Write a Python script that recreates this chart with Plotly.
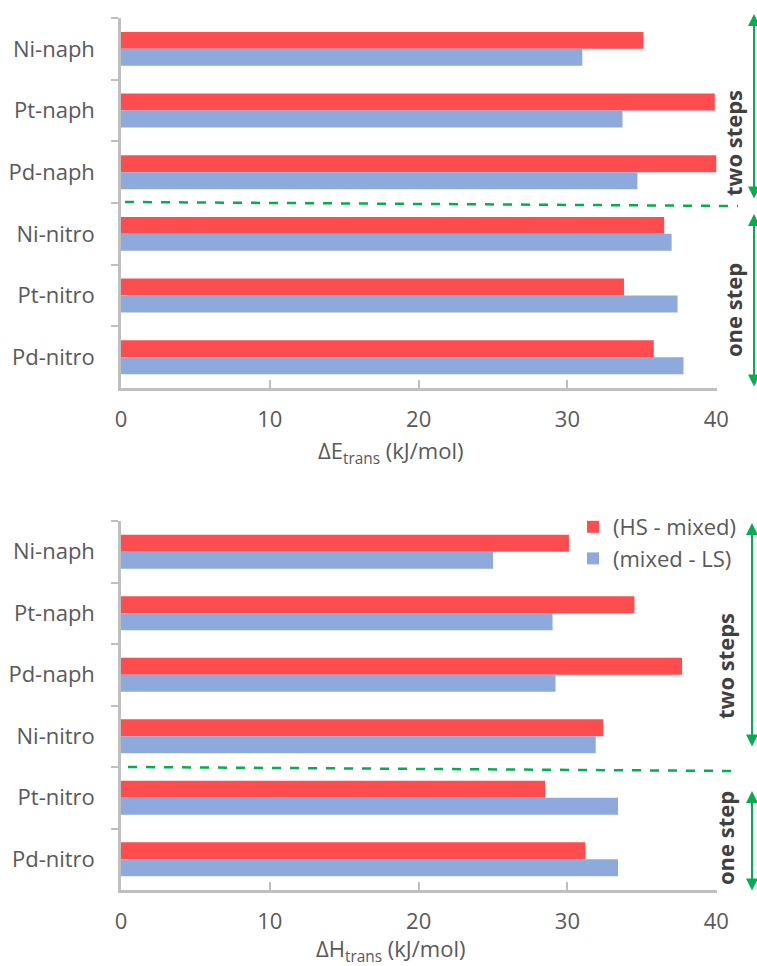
import plotly.graph_objects as go
from plotly.subplots import make_subplots

categories = ["Ni-naph", "Pt-naph", "Pd-naph", "Ni-nitro", "Pt-nitro", "Pd-nitro"]
E_hs_mixed = [35.1, 39.9, 40.0, 36.5, 33.8, 35.8]
E_mixed_ls = [31.0, 33.7, 34.7, 37.0, 37.4, 37.8]
H_hs_mixed = [30.1, 34.5, 37.7, 32.4, 28.5, 31.2]
H_mixed_ls = [25.0, 29.0, 29.2, 31.9, 33.4, 33.4]
series_names = ["(HS - mixed)", "(mixed - LS)"]
x_ticks = [0, 10, 20, 30, 40]
axis_titles = ["ΔE<sub>trans</sub> (kJ/mol)", "ΔH<sub>trans</sub> (kJ/mol)"]

RED = "#FF4D4F"
BLUE = "#8EA9DB"
GREEN = "#00B050"
GRAY_TXT = "#595959"
AXIS = "#BFBFBF"
FONT = "Open Sans"
FS = 22

W, H = 757, 966
ML, MR, MT, MB = 121, 40, 18, 76
PW = W - ML - MR
PH = H - MT - MB


def px(X):
    return (X - ML) / PW


def py(Y):
    return 1 - (Y - MT) / PH


fig = make_subplots(rows=2, cols=1, vertical_spacing=0.0)

for row, (hs, ls) in enumerate([(E_hs_mixed, E_mixed_ls), (H_hs_mixed, H_mixed_ls)], start=1):
    for i, (vals, col) in enumerate([(hs, RED), (ls, BLUE)]):
        fig.add_trace(
            go.Bar(
                y=categories, x=vals, orientation="h", name=series_names[i],
                marker=dict(color=col, line=dict(width=0)),
                showlegend=(row == 2), legendgroup=f"g{i}",
            ),
            row=row, col=1,
        )

fig.update_layout(
    width=W, height=H,
    margin=dict(l=ML, r=MR, t=MT, b=MB, autoexpand=False),
    plot_bgcolor="white", paper_bgcolor="white",
    barmode="group", bargap=0.45, bargroupgap=0,
    font=dict(family=FONT, size=FS, color=GRAY_TXT),
    legend=dict(x=px(573), y=py(506), xanchor="left", yanchor="top",
                traceorder="normal", tracegroupgap=29,
                font=dict(size=FS, color=GRAY_TXT), bgcolor="rgba(0,0,0,0)"),
    yaxis=dict(domain=[py(388), 1]),
    yaxis2=dict(domain=[0, py(521)]),
)

for r in (1, 2):
    fig.update_yaxes(
        row=r, col=1, type="category", autorange="reversed", automargin=False,
        showline=True, linecolor=AXIS, linewidth=2.5,
        ticks="outside", tickson="boundaries", ticklen=7, tickcolor=AXIS, tickwidth=2,
        ticklabelstandoff=19, showgrid=False, zeroline=False,
        tickfont=dict(size=FS, color=GRAY_TXT),
    )
    fig.update_xaxes(
        row=r, col=1, range=[0, 40.05], tickvals=x_ticks, ticktext=[str(t) for t in x_ticks],
        automargin=False,
        showline=True, linecolor=AXIS, linewidth=2.5,
        ticks="inside", ticklen=8, tickcolor=AXIS, tickwidth=2,
        ticklabelstandoff=10, showgrid=False, zeroline=False,
        tickfont=dict(size=FS, color=GRAY_TXT),
    )

# axis titles
for (Y, txt) in [(452, axis_titles[0]), (950, axis_titles[1])]:
    fig.add_annotation(xref="paper", yref="paper", x=px(390), y=py(Y),
                       text=txt, showarrow=False, xanchor="center", yanchor="middle",
                       font=dict(family=FONT, size=FS, color=GRAY_TXT))

# dashed separators
for (x0, y0, x1, y1) in [(125, 202, 738, 206), (128, 767, 738, 771)]:
    fig.add_shape(type="line", xref="paper", yref="paper",
                  x0=px(x0), y0=py(y0), x1=px(x1), y1=py(y1),
                  line=dict(color=GREEN, width=2.5, dash="dash"))

# double-headed arrows
for (X, Y0, Y1) in [(754, 14, 200), (754, 214, 388), (752, 523, 748), (752, 791, 892)]:
    fig.add_annotation(xref="paper", yref="paper", x=px(X), y=py(Y0),
                       ax=0, ay=Y1 - Y0, axref="pixel", ayref="pixel",
                       text="", showarrow=True, arrowhead=2, startarrowhead=2,
                       arrowside="end+start", arrowsize=1.2, startarrowsize=1.2,
                       arrowwidth=2, arrowcolor=GREEN, standoff=0, startstandoff=0)

# group labels
for (X, Y, txt) in [(733, 143, "two steps"), (733, 310, "one step"),
                    (725, 666, "two steps"), (725, 838, "one step")]:
    fig.add_annotation(xref="paper", yref="paper", x=px(X), y=py(Y),
                       text=f"<b>{txt}</b>", showarrow=False, textangle=-90,
                       font=dict(family=FONT, size=FS, color="#404040"),
                       xanchor="center", yanchor="middle")

fig.write_html(
    "out.html",
    config={"displayModeBar": False},
    post_script="document.body.style.margin='0';document.body.style.overflow='hidden';",
)
